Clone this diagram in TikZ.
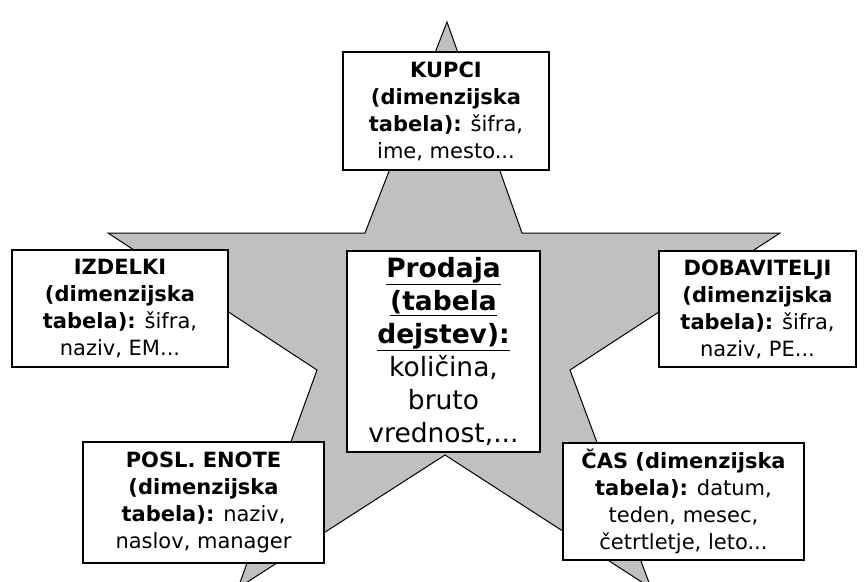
\documentclass[tikz,border=0pt]{standalone}
\usepackage{fontspec}
\setmainfont{DejaVu Sans}
\usepackage{tikz}
\definecolor{stargray}{RGB}{192,192,192}

\begin{document}
\begin{tikzpicture}[x=1pt,y=-1pt,
  dimbox/.style={draw,fill=white,line width=1.3pt,align=center,inner sep=0pt,
    font=\fontsize{21}{27}\selectfont},
  factbox/.style={dimbox,font=\fontsize{26.5}{33}\selectfont}]
\useasboundingbox (0,0) rectangle (866,581);
% star
\filldraw[fill=stargray,line width=1pt,line join=miter] (447,22)--(522,233)--(780,233)--(570,370)--(651,588)
  --(445,455)--(238,588)--(317,370)--(108,233)--(365,233)--cycle;
% tables
\node[dimbox,minimum width=206pt,minimum height=118pt] (kupci) at (446,111)
  {\textbf{KUPCI}\\\textbf{(dimenzijska}\\\textbf{tabela):} šifra,\\ime, mesto...};
\node[dimbox,minimum width=216pt,minimum height=117pt] (izdelki) at (120,308.5)
  {\textbf{IZDELKI}\\\textbf{(dimenzijska}\\\textbf{tabela):} šifra,\\naziv, EM...};
\node[factbox,minimum width=193pt,minimum height=201pt] (prodaja) at (443.5,351.5)
  {\textbf{\underline{Prodaja}}\\\textbf{\underline{(tabela}}\\\textbf{\underline{dejstev):}}\\količina,\\bruto\\vrednost,...};
\node[dimbox,minimum width=197pt,minimum height=116pt] (dobavitelji) at (757.5,309)
  {\textbf{DOBAVITELJI}\\\textbf{(dimenzijska}\\\textbf{tabela):} šifra,\\naziv, PE...};
\node[dimbox,minimum width=241pt,minimum height=121pt] (enote) at (203.5,502.5)
  {\textbf{POSL. ENOTE}\\\textbf{(dimenzijska}\\\textbf{tabela):} naziv,\\naslov, manager};
\node[dimbox,minimum width=241pt,minimum height=117pt] (cas) at (683.5,501.5)
  {\textbf{ČAS (dimenzijska}\\\textbf{tabela):} datum,\\teden, mesec,\\četrtletje, leto...};
\end{tikzpicture}
\end{document}
